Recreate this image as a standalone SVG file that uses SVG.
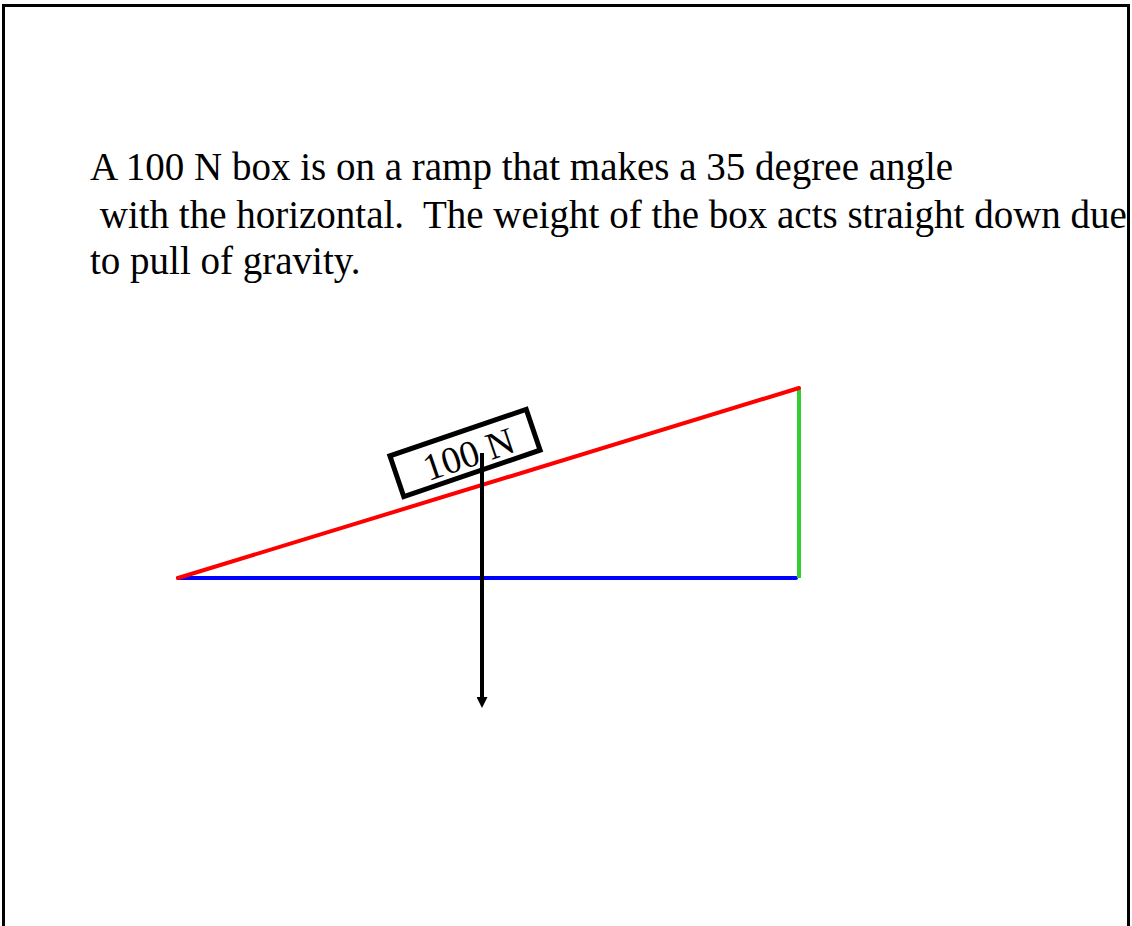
<svg xmlns="http://www.w3.org/2000/svg" width="1132" height="926" viewBox="0 0 1132 926">
<style>
.t{font-family:"Liberation Serif","Times New Roman",serif;font-size:39px;fill:#000;white-space:pre}
.lbl{font-family:"Liberation Serif","Times New Roman",serif;font-size:38px;fill:#000}
</style>
<defs>
<marker id="ah" markerWidth="11" markerHeight="11" refX="0" refY="5" orient="auto" markerUnits="userSpaceOnUse" viewBox="0 0 10 10">
<path d="M0,0 L10,5 L0,10 Z" fill="#000"/>
</marker>
</defs>
<rect x="0" y="0" width="1132" height="926" fill="#fff"/>
<path d="M3.5,940 V5.5 H1128.5 V940" fill="none" stroke="#000" stroke-width="3"/>
<g id="question">
<text class="t" x="90" y="180">A 100 N box is on a ramp that makes a 35 degree angle</text>
<text class="t" x="90" y="228" xml:space="preserve"> with the horizontal.  The weight of the box acts straight down due</text>
<text class="t" x="90" y="274">to pull of gravity.</text>
</g>
<g id="ramp">
<line x1="178" y1="578" x2="796" y2="578" stroke="#0000ff" stroke-width="4" stroke-linecap="round"/>
<line x1="799" y1="388" x2="799" y2="578" stroke="#33cc33" stroke-width="4"/>
<line x1="178" y1="578" x2="799" y2="388" stroke="#ff0000" stroke-width="4" stroke-linecap="round"/>
</g>
<g id="box" transform="rotate(-18.8 465 453)">
<rect x="393" y="431.5" width="144" height="43" fill="none" stroke="#000" stroke-width="5"/>
<text class="lbl" x="468" y="468" text-anchor="middle">100 N</text>
</g>
<g id="connectors">
<line x1="482" y1="453" x2="482" y2="697" stroke="#000" stroke-width="4" marker-end="url(#ah)"/>
</g>
</svg>
